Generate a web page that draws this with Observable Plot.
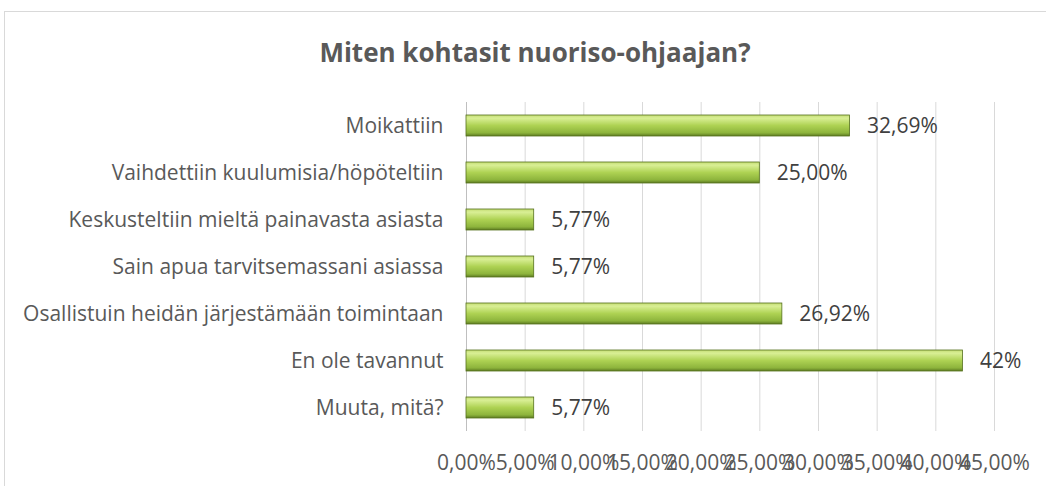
<!DOCTYPE html>
<html><head><meta charset="utf-8">
<script src="https://cdn.jsdelivr.net/npm/d3@7"></script>
<script src="https://cdn.jsdelivr.net/npm/@observablehq/plot@0.6"></script>
<style>
body{margin:0;background:#fff;font-family:"Open Sans",sans-serif;}
#wrap{position:relative;width:1046px;height:486px;overflow:hidden;}
#frame{position:absolute;left:4px;top:11px;width:1100px;height:520px;border:1.5px solid #d9d9d9;box-sizing:border-box;pointer-events:none;}
#title{height:90px;box-sizing:border-box;padding-top:37px;padding-left:24px;line-height:30px;text-align:center;font-weight:bold;font-size:26px;color:#595959;}
#chart svg{display:block;}
</style></head>
<body>
<div id="wrap">
<div id="frame"></div>
<div id="title">Miten kohtasit nuoriso-ohjaajan?</div>
<div id="chart"></div>
</div>
<script>
const categories = ["Moikattiin","Vaihdettiin kuulumisia/höpöteltiin","Keskusteltiin mieltä painavasta asiasta","Sain apua tarvitsemassani asiassa","Osallistuin heidän järjestämään toimintaan","En ole tavannut","Muuta, mitä?"];
const values = [0.3269, 0.25, 0.0577, 0.0577, 0.2692, 0.4231, 0.0577];
const valueLabels = ["32,69%","25,00%","5,77%","5,77%","26,92%","42%","5,77%"];
const xTicks = [0,0.05,0.10,0.15,0.20,0.25,0.30,0.35,0.40,0.45];
const xTickLabels = ["0,00%","5,00%","10,00%","15,00%","20,00%","25,00%","30,00%","35,00%","40,00%","45,00%"];

const data = categories.map((c,i)=>({cat:c, value:values[i], label:valueLabels[i]}));

const svg = Plot.plot({
  width:1046, height:396,
  marginLeft:466, marginRight:52, marginTop:12, marginBottom:55,
  style:{fontSize:"21px", fontFamily:"'Open Sans', sans-serif", color:"#595959", background:"transparent"},
  x:{domain:[0,0.45], ticks:xTicks, tickFormat:d=>xTickLabels[xTicks.findIndex(t=>Math.abs(t-d)<1e-9)], tickSize:0, tickPadding:24, label:null},
  y:{domain:categories, paddingInner:0.55, paddingOuter:0.275, label:null, tickSize:0, tickPadding:23},
  marks:[
    Plot.gridX(xTicks,{stroke:"#d9d9d9", strokeOpacity:1}),
    Plot.ruleX([0],{stroke:"#bfbfbf"}),
    Plot.barX(data,{x:"value", y:"cat", fill:"url(#barGrad)", stroke:"#55701d", strokeWidth:0.8}),
    Plot.text(data,{x:"value", y:"cat", text:"label", textAnchor:"start", dx:17, fill:"#404040", fontSize:21})
  ]
});
const ns="http://www.w3.org/2000/svg";
const defs=document.createElementNS(ns,"defs");
defs.innerHTML=`<linearGradient id="barGrad" x1="0" y1="0" x2="0" y2="1">
<stop offset="0" stop-color="#c3dc72"/>
<stop offset="0.15" stop-color="#d9ef95"/>
<stop offset="0.5" stop-color="#aed253"/>
<stop offset="0.85" stop-color="#8db43c"/>
<stop offset="1" stop-color="#5d7b22"/>
</linearGradient>`;
svg.insertBefore(defs, svg.firstChild);
document.getElementById("chart").appendChild(svg);
</script>
</body></html>
